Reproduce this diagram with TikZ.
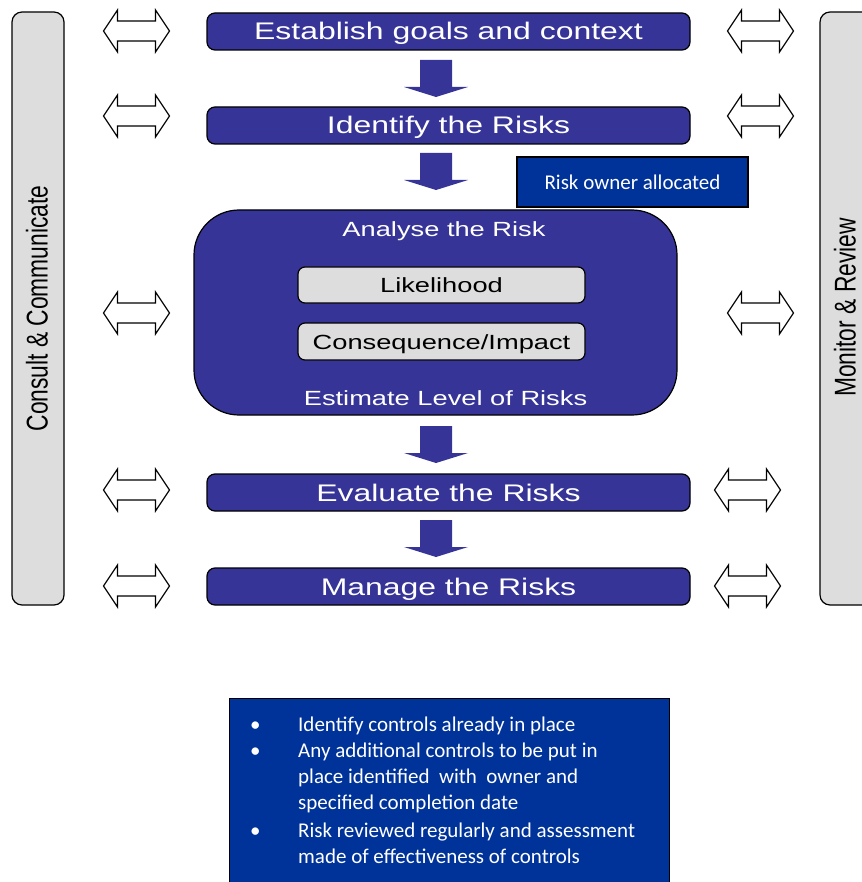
\documentclass[tikz,border=0pt]{standalone}
\usepackage{fontspec}
\setmainfont{Liberation Sans}
\newfontfamily\boxfont[FakeStretch=1.33]{Liberation Sans}
\newfontfamily\sidefont[FakeStretch=0.76]{Liberation Sans}
\newfontfamily\notefont{Carlito}
\definecolor{riskblue}{RGB}{54,52,150}
\definecolor{ownerblue}{RGB}{0,51,153}
\definecolor{bargray}{RGB}{221,221,221}

% two headed block arrow, centred at (#1,#2)
\newcommand{\twoway}[2]{%
    \draw[line width=1.2pt, fill=white] (#1,#2) ++(-33,0) -- ++(14,-21) -- ++(0,11)
        -- ++(38,0) -- ++(0,-11) -- ++(14,21) -- ++(-14,21) -- ++(0,-11)
        -- ++(-38,0) -- ++(0,11) -- cycle;}
% block arrow pointing down, top centre at (#1,#2)
\newcommand{\flowdown}[2]{%
    \fill[riskblue] (#1,#2) ++(-16,0) -- ++(32,0) -- ++(0,27) -- ++(16,0)
        -- ++(-32,10) -- ++(-32,-10) -- ++(16,0) -- cycle;}

\tikzset{
    stage/.style={draw=black, line width=1.2pt, fill=riskblue, rounded corners=8pt,
        minimum width=483pt, minimum height=37pt, inner sep=0pt, text=white,
        text height=17pt, text depth=0pt,
        font=\boxfont\fontsize{24}{28}\selectfont},
    subtitle/.style={text=white, inner sep=0pt, text height=15pt, text depth=0pt,
        font=\boxfont\fontsize{20.5}{24}\selectfont},
    factor/.style={draw=black, line width=1.2pt, fill=bargray, rounded corners=7pt,
        minimum width=287pt, minimum height=36pt, inner sep=0pt,
        text height=15pt, text depth=0pt,
        font=\boxfont\fontsize{20.5}{24}\selectfont},
    sidebar/.style={draw=black, line width=1.2pt, fill=bargray, rounded corners=10pt,
        minimum width=593pt, minimum height=52pt, inner sep=0pt, rotate=90},
    sidetext/.style={inner sep=0pt, rotate=90, font=\sidefont\fontsize{30}{34}\selectfont},
    note/.style={draw=black, line width=1.2pt, fill=ownerblue, inner sep=0pt, text=white,
        font=\notefont\fontsize{21}{26}\selectfont},
}

\begin{document}
\begin{tikzpicture}[x=1pt, y=-1pt]
    \useasboundingbox (0,0) rectangle (861,882);
    % side bars
    \node[sidebar] (consult) at (38,308.5) {};
    \node[sidetext] (consulttext) at (37,308.5) {Consult \& Communicate};
    \node[sidebar] (monitor) at (846,308.5) {};
    \node[sidetext] (monitortext) at (845,307.5) {Monitor \& Review};

    % main steps
    \node[stage] (goals) at (448.5,31.5) {Establish goals and context};
    \node[stage] (identify) at (448.5,125.5) {Identify the Risks};
    \node[stage] (evaluate) at (448.5,492.5) {Evaluate the Risks};
    \node[stage] (manage) at (448.5,586.5) {Manage the Risks};

    % analyse block
    \node[stage, rounded corners=45pt, minimum height=205pt] (analyse) at (435.5,312.5) {};
    \node[subtitle] (analysetitle) at (444,229) {Analyse the Risk};
    \node[subtitle] (estimate) at (445.5,398) {Estimate Level of Risks};
    \node[factor] (likelihood) at (441.5,285) {Likelihood};
    \node[factor, minimum height=37pt] (impact) at (441.5,341.5) {Consequence/Impact};

    \node[note, minimum width=231pt, minimum height=50pt] (owner) at (632.5,182) {Risk owner allocated};

    % arrows between the steps
    \foreach \y in {60, 153, 426, 520} {
        \flowdown{436}{\y}
    }
    % arrows to the side bars
    \foreach \y in {31, 116, 313, 490, 586} {
        \twoway{136.5}{\y}
    }
    \foreach \y in {31, 116, 313} {
        \twoway{760.5}{\y}
    }
    \foreach \y in {490, 586} {
        \twoway{747.5}{\y}
    }

    % actions
    \node[note, anchor=north west, minimum width=440pt, minimum height=200pt] (actions) at (229,698) {};
    \node[anchor=north west, inner sep=0pt, text=white, font=\notefont\fontsize{21}{26}\selectfont,
        align=left] (actionlist) at (250,713) {%
        \begin{tabular}{@{}p{48pt}@{}l@{}}
            \textbullet & Identify controls already in place\\
            \textbullet & Any additional controls to be put in\\
                        & place identified \ with \ owner and\\
                        & specified completion date\\[2pt]
            \textbullet & Risk reviewed regularly and assessment\\
                        & made of effectiveness of controls
        \end{tabular}};
\end{tikzpicture}
\end{document}
